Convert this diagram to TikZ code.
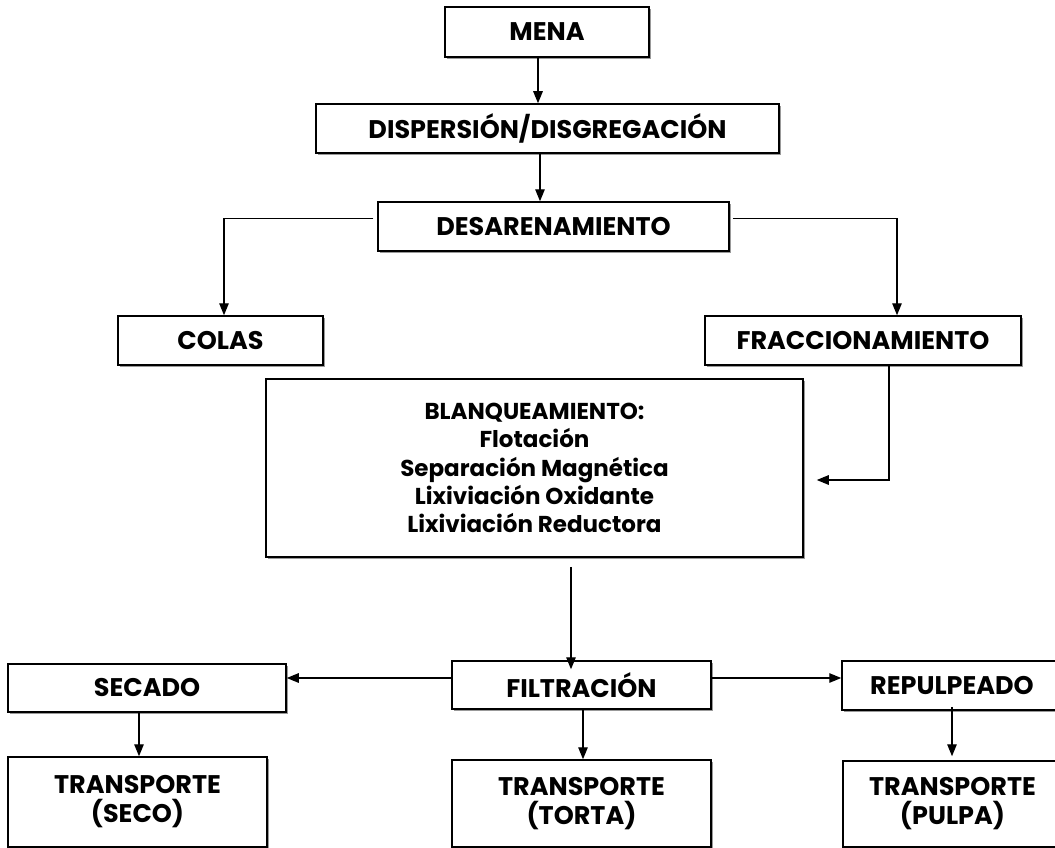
\documentclass[tikz,border=0pt]{standalone}
\usepackage{fontspec}
\setmainfont{Poppins}
\usetikzlibrary{arrows.meta,shadows}
\tikzset{
  box/.style={draw=black, line width=1.5pt, fill=white, inner sep=0pt,
    font=\fontsize{25.5}{29}\selectfont\bfseries, align=center,
    drop shadow={shadow xshift=1.5pt, shadow yshift=-2pt, fill=black!40, opacity=1}},
  arr/.style={draw=black, line width=1.3pt, -{Triangle[length=12pt,width=9.5pt]}}
}
\begin{document}
\begin{tikzpicture}[x=1pt,y=-1pt]
\useasboundingbox (0,0) rectangle (1055,848);
\clip (0,0) rectangle (1055,848);
\fill[white] (0,0) rectangle (1055,848);

\node[box, minimum width=204pt, minimum height=50pt] (mena) at (547,32) {MENA};
\node[box, minimum width=463pt, minimum height=49pt] (disp) at (547.5,128.5) {DISPERSIÓN/DISGREGACIÓN};
\node[box, minimum width=351pt, minimum height=49pt] (desar) at (553.5,226.5) {DESARENAMIENTO};
\node[box, minimum width=205pt, minimum height=49pt] (colas) at (220.5,340.5) {COLAS};
\node[box, minimum width=316pt, minimum height=49pt] (fracc) at (863,340.5) {FRACCIONAMIENTO};
\node[box, minimum width=537pt, minimum height=178pt, font=\fontsize{23}{28.3}\selectfont\bfseries] (blanq) at (534.5,468)
  {BLANQUEAMIENTO:\\Flotación\\Separación Magnética\\Lixiviación Oxidante\\Lixiviación Reductora};
\node[box, minimum width=259pt, minimum height=48pt] (filt) at (581.5,685) {FILTRACIÓN};
\node[box, minimum width=278pt, minimum height=48pt] (secado) at (147,688) {SECADO};
\node[box, minimum width=220pt, minimum height=49pt] (repulp) at (952,685.5) {REPULPEADO};
\node[box, minimum width=259pt, minimum height=90pt] (tseco) at (137.5,802) {TRANSPORTE\\(SECO)};
\node[box, minimum width=259pt, minimum height=87pt] (ttorta) at (581.5,803.5) {TRANSPORTE\\(TORTA)};
\node[box, minimum width=219pt, minimum height=86pt] (tpulpa) at (952.5,804) {TRANSPORTE\\(PULPA)};

\draw[arr] ([xshift=-9pt]mena.south) -- ([xshift=-9pt]mena.south |- disp.north);
\draw[arr] ([xshift=-7.5pt]disp.south) -- ([xshift=-7.5pt]disp.south |- desar.north);
\draw[arr] ([xshift=-4pt,yshift=8pt]desar.west) -| ([xshift=3.5pt]colas.north);
\draw[arr] ([xshift=3pt,yshift=8pt]desar.east) -| ([xshift=34pt]fracc.north);
\draw[arr] ([xshift=26pt]fracc.south) |- ([xshift=13pt,yshift=-12pt]blanq.east);
\draw[arr] ([xshift=36.5pt,yshift=-9pt]blanq.south) -- ([xshift=36.5pt,yshift=-9pt]blanq.south |- filt.north);
\draw[arr] ([yshift=7pt]filt.west) -- ([yshift=7pt]filt.west -| secado.east);
\draw[arr] ([yshift=7pt]filt.east) -- ([yshift=7pt]filt.east -| repulp.west);
\draw[arr] ([xshift=-8pt]secado.south) -- ([xshift=-8pt]secado.south |- tseco.north);
\draw[arr] ([xshift=1.5pt]filt.south) -- ([xshift=1.5pt]filt.south |- ttorta.north);
\draw[arr] ([yshift=4pt]repulp.south) -- ([yshift=4pt]repulp.south |- tpulpa.north);
\end{tikzpicture}
\end{document}
